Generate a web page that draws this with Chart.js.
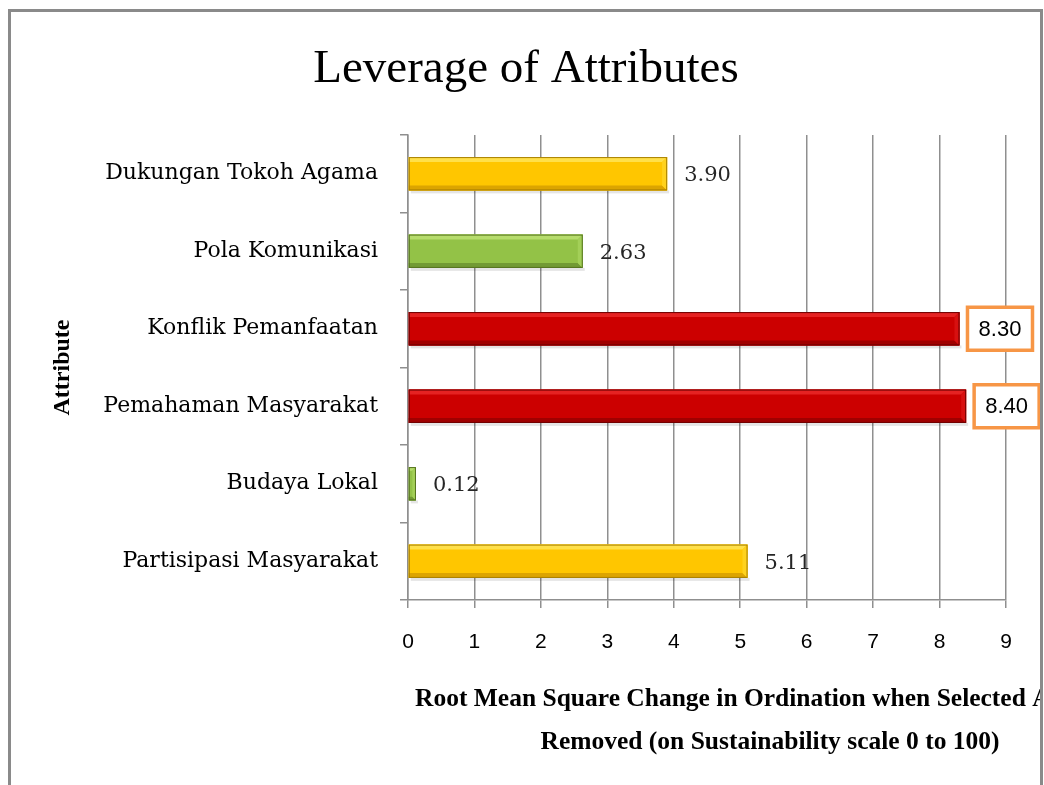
<!DOCTYPE html>
<html>
<head>
<meta charset="utf-8">
<script src="https://cdn.jsdelivr.net/npm/chart.js@4"></script>
<style>
  html, body { margin: 0; padding: 0; background: #fff; }
  #wrap { width: 1044px; height: 785px; }
</style>
</head>
<body>
<div id="wrap"><canvas id="leverageChart" width="1044" height="785"></canvas></div>
<script>
// Leverage of Attributes - horizontal bars
const attributes = ['Dukungan Tokoh Agama', 'Pola Komunikasi', 'Konflik Pemanfaatan',
  'Pemahaman Masyarakat', 'Budaya Lokal', 'Partisipasi Masyarakat'];
const rmsChange = [3.90, 2.63, 8.30, 8.40, 0.12, 5.11];
const barColour = ['yellow', 'green', 'red', 'red', 'green', 'yellow'];
const highlight = [false, false, true, true, false, false];
const xTicks = [0, 1, 2, 3, 4, 5, 6, 7, 8, 9];

const palette = {
  yellow: { top: '#ffe04a', base: '#ffc600', right: '#ffd21e', bottom: '#dca400', edge: '#a88000' },
  green:  { top: '#b6dc6c', base: '#93c247', right: '#a3cf58', bottom: '#729a34', edge: '#55731f' },
  red:    { top: '#e52222', base: '#cc0000', right: '#d81010', bottom: '#a00000', edge: '#6e0000' }
};

const serif = '"DejaVu Serif", "Liberation Serif", serif';
const titleSerif = '"Liberation Serif", serif';
const sans = '"Liberation Sans", Arial, sans-serif';

// bevelled bar on top of the element the library placed
function drawBevelBar(ctx, bar, p) {
  const x0 = bar.base, x1 = bar.x;
  const y0 = bar.y - bar.height / 2, y1 = bar.y + bar.height / 2;
  const b = Math.min(5, (x1 - x0) / 2);
  // faint shadow
  ctx.fillStyle = 'rgba(0,0,0,0.10)';
  ctx.fillRect(x0 + 2, y1, x1 - x0, 3);
  ctx.fillStyle = p.base;
  ctx.fillRect(x0, y0, x1 - x0, y1 - y0);
  ctx.fillStyle = p.top;
  ctx.beginPath();
  ctx.moveTo(x0, y0); ctx.lineTo(x1, y0); ctx.lineTo(x1 - b, y0 + b); ctx.lineTo(x0, y0 + b);
  ctx.closePath(); ctx.fill();
  ctx.fillStyle = p.bottom;
  ctx.beginPath();
  ctx.moveTo(x0, y1); ctx.lineTo(x1, y1); ctx.lineTo(x1 - b, y1 - b); ctx.lineTo(x0, y1 - b);
  ctx.closePath(); ctx.fill();
  ctx.fillStyle = p.right;
  ctx.beginPath();
  ctx.moveTo(x1, y0); ctx.lineTo(x1, y1); ctx.lineTo(x1 - b, y1 - b); ctx.lineTo(x1 - b, y0 + b);
  ctx.closePath(); ctx.fill();
  ctx.strokeStyle = p.edge;
  ctx.lineWidth = 1;
  ctx.strokeRect(x0 + 0.5, y0 + 0.5, x1 - x0 - 1, y1 - y0 - 1);
}

// frame, titles and value labels
const decorations = {
  id: 'decorations',
  afterDatasetsDraw(chart) {
    const ctx = chart.ctx;
    const meta = chart.getDatasetMeta(0);
    ctx.save();
    meta.data.forEach((bar, i) => {
      drawBevelBar(ctx, bar, palette[barColour[i]]);
      const txt = rmsChange[i].toFixed(2);
      if (highlight[i]) {
        const bx = bar.x + 8, bw = 65, bh = 43;
        ctx.fillStyle = '#fff';
        ctx.fillRect(bx, bar.y - bh / 2, bw, bh);
        ctx.strokeStyle = '#f79646';
        ctx.lineWidth = 3.5;
        ctx.strokeRect(bx, bar.y - bh / 2, bw, bh);
        ctx.fillStyle = '#000';
        ctx.font = '22px ' + sans;
        ctx.textAlign = 'center';
        ctx.textBaseline = 'middle';
        ctx.fillText(txt, bx + bw / 2, bar.y + 1);
      } else {
        ctx.fillStyle = '#262626';
        ctx.font = '21px ' + serif;
        ctx.textAlign = 'left';
        ctx.textBaseline = 'middle';
        ctx.fillText(txt, bar.x + 17, bar.y + 2);
      }
    });
    ctx.restore();
  },
  afterDraw(chart) {
    const ctx = chart.ctx;
    const area = chart.chartArea;
    ctx.save();
    // outer frame (no bottom edge)
    ctx.strokeStyle = '#8a8a8a';
    ctx.lineWidth = 3;
    ctx.beginPath();
    ctx.moveTo(9.5, 785);
    ctx.lineTo(9.5, 10.5);
    ctx.lineTo(1041.5, 10.5);
    ctx.lineTo(1041.5, 785);
    ctx.stroke();

    // main title
    ctx.fillStyle = '#000';
    ctx.font = '47px ' + titleSerif;
    ctx.textAlign = 'center';
    ctx.textBaseline = 'alphabetic';
    ctx.fillText('Leverage of Attributes', 526, 82);

    // y axis title
    ctx.save();
    ctx.translate(63, (area.top + area.bottom) / 2);
    ctx.rotate(-Math.PI / 2);
    ctx.font = 'bold 24px ' + titleSerif;
    ctx.textAlign = 'center';
    ctx.textBaseline = 'middle';
    ctx.fillText('Attribute', 0, 0);
    ctx.restore();

    // x axis title, cut by the frame on the right
    ctx.save();
    ctx.beginPath();
    ctx.rect(12, 660, 1028, 120);
    ctx.clip();
    ctx.font = 'bold 25.5px ' + titleSerif;
    ctx.textAlign = 'left';
    ctx.fillText('Root Mean Square Change in Ordination when Selected Attribute', 415, 706);
    ctx.textAlign = 'center';
    ctx.fillText('Removed (on Sustainability scale 0 to 100)', 770, 749);
    ctx.restore();
    ctx.restore();
  }
};

new Chart(document.getElementById('leverageChart'), {
  type: 'bar',
  data: {
    labels: attributes,
    datasets: [{
      label: 'Leverage',
      data: rmsChange,
      backgroundColor: rmsChange.map((_, i) => palette[barColour[i]].base),
      borderWidth: 0,
      categoryPercentage: 0.43,
      barPercentage: 1
    }]
  },
  options: {
    indexAxis: 'y',
    responsive: false,
    animation: false,
    layout: { padding: { left: 0, top: 135, right: 38, bottom: 0 } },
    plugins: {
      legend: { display: false },
      tooltip: { enabled: false }
    },
    scales: {
      x: {
        min: 0,
        max: 9,
        afterFit: s => { s.height = 185; },
        afterBuildTicks: s => { s.ticks = xTicks.map(v => ({ value: v })); },
        grid: { color: '#8f8f8f', lineWidth: 1.5, tickLength: 8 },
        border: { color: '#8f8f8f', width: 1.5 },
        ticks: { color: '#000', font: { family: sans, size: 21 }, padding: 22 }
      },
      y: {
        afterFit: s => { s.width = 408; },
        grid: { offset: true, drawOnChartArea: false, color: '#8f8f8f', lineWidth: 1.5, tickLength: 8 },
        border: { color: '#8f8f8f', width: 1.5 },
        ticks: { color: '#000', font: { family: serif, size: 22 }, padding: 22 }
      }
    }
  },
  plugins: [decorations]
});
</script>
</body>
</html>
